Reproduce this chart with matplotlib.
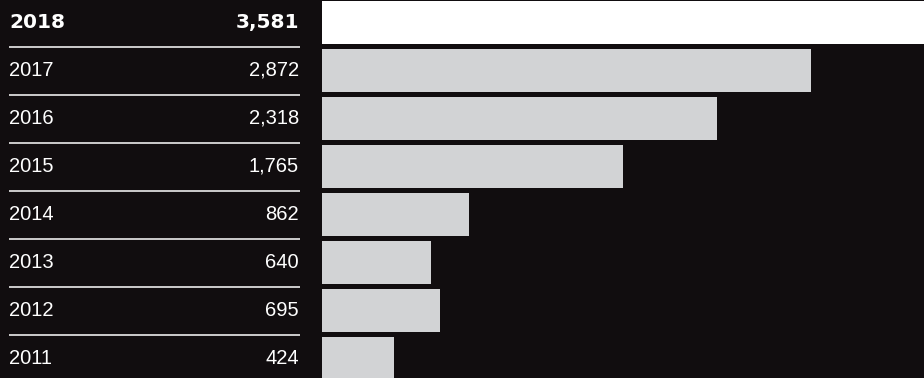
import matplotlib
matplotlib.use('Agg')
from matplotlib import pyplot as plt

years = ['2018', '2017', '2016', '2015', '2014', '2013', '2012', '2011']
values = [3581, 2872, 2318, 1765, 862, 640, 695, 424]

bg = '#110d0f'
bar_gray = '#d2d3d5'

fig = plt.figure(figsize=(9.24, 3.78), dpi=100, facecolor=bg)

# row geometry: first row centre 22.5px from top, 48px pitch, 378px high
ytop = -22.5 / 48
ybot = (378 - 22.5) / 48

# bars
ax = fig.add_axes([322 / 924, 0, 1 - 322 / 924, 1])
ax.set_facecolor(bg)
rows = list(range(len(years)))
colors = ['white'] + [bar_gray] * (len(years) - 1)
ax.barh(rows, values, height=43 / 48, color=colors, left=0)
ax.set_xlim(0, 3535)
ax.set_ylim(ybot, ytop)
ax.axis('off')

# table on the left
tab = fig.add_axes([0, 0, 322 / 924, 1])
tab.set_facecolor(bg)
tab.set_xlim(0, 322)
tab.set_ylim(ybot, ytop)
tab.axis('off')

for i, (yr, v) in enumerate(zip(years, values)):
    if i == 0:
        tab.text(9, i, yr, color='white', fontsize=14.5, fontweight='bold',
                 family='DejaVu Sans', va='center', ha='left')
        tab.text(299, i, '{:,}'.format(v), color='white', fontsize=14.5,
                 fontweight='bold', family='DejaVu Sans', va='center', ha='right')
    else:
        tab.text(9, i, yr, color='white', fontsize=14.5,
                 family='Liberation Sans', va='center', ha='left')
        tab.text(299, i, '{:,}'.format(v), color='white', fontsize=14.5,
                 family='Liberation Sans', va='center', ha='right')

for i in range(len(years) - 1):
    tab.plot([9, 300], [i + 0.5, i + 0.5], color='white', lw=1.1,
             solid_capstyle='butt')

plt.savefig('out.png', dpi=100, facecolor=bg)
